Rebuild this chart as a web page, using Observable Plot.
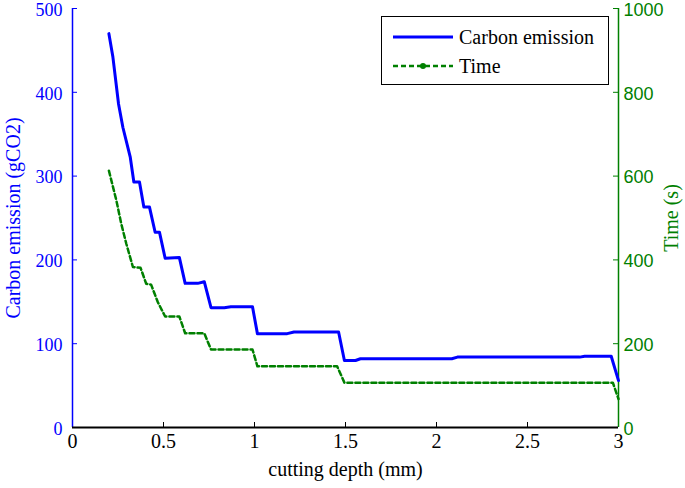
<!DOCTYPE html>
<html>
<head>
<meta charset="utf-8">
<script src="https://cdn.jsdelivr.net/npm/d3@7"></script>
<script src="https://cdn.jsdelivr.net/npm/@observablehq/plot@0.6"></script>
<style>
  body { margin: 0; background: #fff; }
  #wrap { position: relative; width: 685px; height: 488px; }
  #legend { position: absolute; left: 381px; top: 16px; width: 226px; height: 67px;
    border: 1.5px solid #000; background: #fff; font-family: "Liberation Serif", serif; font-size: 20px; }
  .row { position: absolute; left: 11px; display: flex; align-items: center; height: 24px; }
  .row svg { margin-right: 6px; }
</style>
</head>
<body>
<div id="wrap">
  <div id="chart"></div>
  <div id="legend">
    <div class="row" style="top:8px"><svg width="60" height="10"><line x1="0" y1="5" x2="60" y2="5" stroke="#0000ff" stroke-width="3"/></svg><span>Carbon emission</span></div>
    <div class="row" style="top:37px"><svg width="60" height="10"><line x1="0" y1="5" x2="60" y2="5" stroke="#008000" stroke-width="2.5" stroke-dasharray="5,3"/><circle cx="30" cy="5" r="3" fill="#008000"/></svg><span>Time</span></div>
  </div>
</div>
<script>
const carbonX = [0.2, 0.222, 0.253, 0.277, 0.317, 0.337, 0.368, 0.392, 0.423, 0.454, 0.478, 0.509, 0.587, 0.619, 0.688, 0.724, 0.761, 0.834, 0.870, 0.989, 1.016, 1.18, 1.217, 1.462, 1.494, 1.555, 1.582, 2.084, 2.115, 2.787, 2.814, 2.96, 3.0];
const carbonY = [470, 442, 386, 358, 323, 293, 293, 263, 263, 233, 233, 202, 203, 172, 172, 174, 143, 143, 144, 144, 112, 112, 114, 114, 80, 80, 82, 82, 84, 84, 85, 85, 56];
const timeX = [0.2, 0.241, 0.268, 0.296, 0.332, 0.374, 0.405, 0.432, 0.469, 0.509, 0.587, 0.619, 0.724, 0.761, 0.989, 1.016, 1.454, 1.494, 2.969, 3.0];
const timeY = [613, 542, 486, 438, 383, 381, 343, 341, 299, 265, 265, 225, 225, 186, 186, 146, 146, 107, 107, 68];
const xTicks = [0, 0.5, 1, 1.5, 2, 2.5, 3];
const leftTicks = [0, 100, 200, 300, 400, 500];
const rightTicks = [0, 200, 400, 600, 800, 1000];

const carbon = carbonX.map((x, i) => ({x, y: carbonY[i]}));
const time = timeX.map((x, i) => ({x, t: timeY[i]}));
const ratio = 2; // right axis scale factor (1000 / 500)

const BLUE = "#0000ff", GREEN = "#008000";
const serif = "Liberation Serif, Times New Roman, serif", sans = "Liberation Sans, Arial, sans-serif";
const W = 685, H = 488, mL = 72, mR = 67, mT = 8, mB = 61;
const pw = W - mL - mR, ph = H - mT - mB, tk = 5;

const chart = Plot.plot({
  width: W, height: H,
  marginLeft: mL, marginRight: mR, marginTop: mT, marginBottom: mB,
  style: {fontFamily: serif, background: "#fff"},
  x: {domain: [0, 3], axis: null},
  y: {domain: [0, 500], axis: null},
  marks: [
    // inward ticks
    Plot.tickX(xTicks, {x: d => d, stroke: "#000", insetTop: ph - tk}),
    Plot.tickY(leftTicks, {y: d => d, stroke: BLUE, insetRight: pw - tk}),
    Plot.tickY(rightTicks, {y: d => d / ratio, stroke: GREEN, insetLeft: pw - tk}),
    // tick labels
    Plot.text(xTicks, {x: d => d, text: d => String(d), frameAnchor: "bottom", lineAnchor: "top", dy: 6, fill: "#000", fontSize: 20, fontFamily: serif}),
    Plot.text(leftTicks, {y: d => d, text: d => String(d), frameAnchor: "left", textAnchor: "end", dx: -10, dy: 1.5, fill: BLUE, fontSize: 18, fontFamily: serif}),
    Plot.text(rightTicks, {y: d => d / ratio, text: d => String(d), frameAnchor: "right", textAnchor: "start", dx: 5, dy: 1.5, fill: GREEN, fontSize: 18, fontFamily: sans}),
    // axis lines
    Plot.ruleX([0], {stroke: BLUE, strokeWidth: 1.5}),
    Plot.ruleX([3], {stroke: GREEN, strokeWidth: 1.5}),
    Plot.ruleY([0], {stroke: "#000", strokeWidth: 2}),
    // data
    Plot.line(time, {x: "x", y: d => d.t / ratio, stroke: GREEN, strokeWidth: 2.5, strokeDasharray: "5,3"}),
    Plot.line(carbon, {x: "x", y: "y", stroke: BLUE, strokeWidth: 3}),
    // axis titles
    Plot.text(["Carbon emission (gCO2)"], {frameAnchor: "left", textAnchor: "middle", lineAnchor: "middle", rotate: -90, dx: -59, fill: BLUE, fontSize: 20, fontFamily: serif}),
    Plot.text(["Time (s)"], {frameAnchor: "right", textAnchor: "middle", lineAnchor: "middle", rotate: -90, dx: 53, fill: GREEN, fontSize: 20, fontFamily: serif}),
    Plot.text(["cutting depth (mm)"], {frameAnchor: "bottom", lineAnchor: "middle", dy: 42, fill: "#000", fontSize: 20, fontFamily: serif})
  ]
});
document.getElementById("chart").appendChild(chart);
</script>
</body>
</html>
